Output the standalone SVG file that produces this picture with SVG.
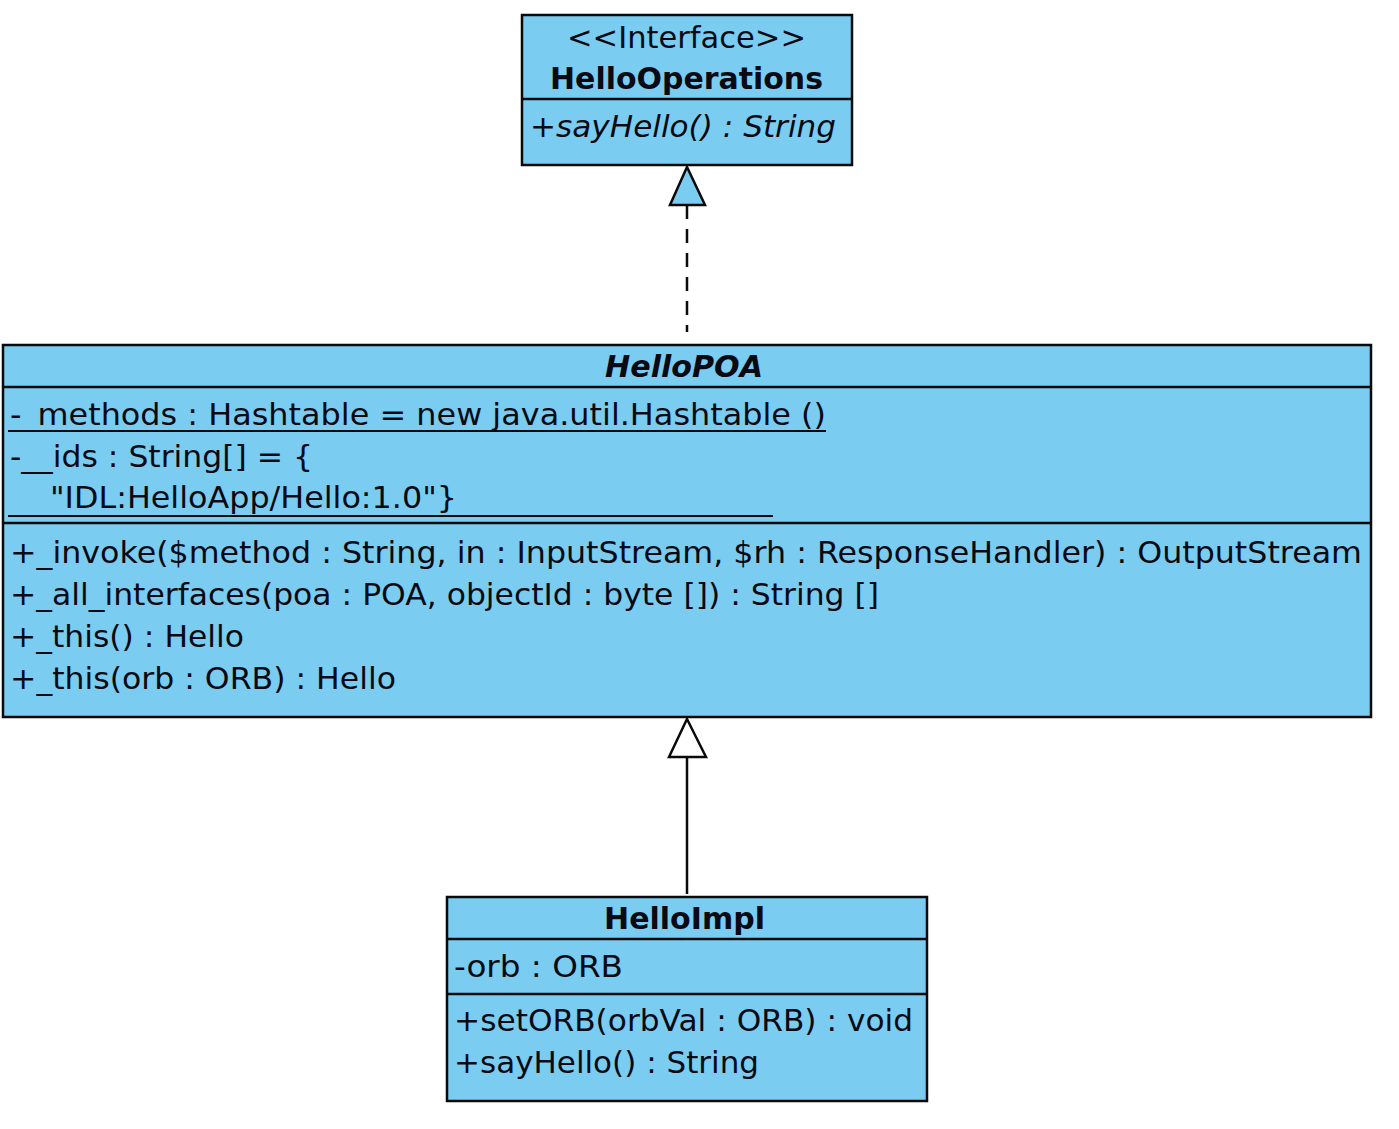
<svg xmlns="http://www.w3.org/2000/svg" width="1399" height="1129" viewBox="0 0 1399 1129">
<style>
.box{fill:#7acdf1;stroke:#0a0a0a;stroke-width:2.5}
.div{stroke:#0a0a0a;stroke-width:2.5}
text{font-family:"DejaVu Sans","Liberation Sans",sans-serif;font-size:30px;fill:#0a0a14}
.c{text-anchor:middle}
.b{font-weight:bold}
.i{font-style:italic}
.u{stroke:#0a0a0a;stroke-width:2}
.edge{stroke:#0a0a0a;stroke-width:2.5;fill:none}
</style>
<rect width="1399" height="1129" fill="#ffffff"/>
<g id="HelloOperations">
<rect class="box" x="522" y="15" width="330" height="150"/>
<line class="div" x1="522" y1="99" x2="852" y2="99"/>
<text x="567" y="48" textLength="239" lengthAdjust="spacingAndGlyphs">&lt;&lt;Interface&gt;&gt;</text>
<text class="b" x="550" y="89" textLength="273" lengthAdjust="spacingAndGlyphs">HelloOperations</text>
<text class="i" x="530" y="137" textLength="306" lengthAdjust="spacingAndGlyphs">+sayHello() : String</text>
</g>
<g id="HelloPOA">
<rect class="box" x="3" y="345" width="1368" height="372"/>
<line class="div" x1="3" y1="387" x2="1371" y2="387"/>
<line class="div" x1="3" y1="523" x2="1371" y2="523"/>
<text class="b i" x="605" y="377" textLength="158" lengthAdjust="spacingAndGlyphs">HelloPOA</text>
<text x="10" y="425" textLength="816" lengthAdjust="spacingAndGlyphs">-_methods : Hashtable = new java.util.Hashtable ()</text>
<line class="u" x1="8" y1="431" x2="826" y2="431"/>
<text x="10" y="467" textLength="303" lengthAdjust="spacingAndGlyphs">-__ids : String[] = {</text>
<text x="50" y="508" textLength="407" lengthAdjust="spacingAndGlyphs">"IDL:HelloApp/Hello:1.0"}</text>
<line class="u" x1="8" y1="516" x2="773" y2="516"/>
<text x="10" y="563" textLength="1352" lengthAdjust="spacingAndGlyphs">+_invoke($method : String, in : InputStream, $rh : ResponseHandler) : OutputStream</text>
<text x="10" y="605" textLength="869" lengthAdjust="spacingAndGlyphs">+_all_interfaces(poa : POA, objectId : byte []) : String []</text>
<text x="10" y="647" textLength="234" lengthAdjust="spacingAndGlyphs">+_this() : Hello</text>
<text x="10" y="689" textLength="386" lengthAdjust="spacingAndGlyphs">+_this(orb : ORB) : Hello</text>
</g>
<g id="HelloImpl">
<rect class="box" x="447" y="897" width="480" height="204"/>
<line class="div" x1="447" y1="939" x2="927" y2="939"/>
<line class="div" x1="447" y1="994" x2="927" y2="994"/>
<text class="b" x="604" y="929" textLength="161" lengthAdjust="spacingAndGlyphs">HelloImpl</text>
<text x="454" y="977" textLength="169" lengthAdjust="spacingAndGlyphs">-orb : ORB</text>
<text x="454" y="1031" textLength="459" lengthAdjust="spacingAndGlyphs">+setORB(orbVal : ORB) : void</text>
<text x="454" y="1073" textLength="305" lengthAdjust="spacingAndGlyphs">+sayHello() : String</text>
</g>
<g id="connectors">
<line class="edge" x1="687" y1="205" x2="687" y2="332" stroke-dasharray="14,10"/>
<polygon points="687,167 670,205 705,205" fill="#7acdf1" stroke="#0a0a0a" stroke-width="2.5"/>
<line class="edge" x1="687" y1="757" x2="687" y2="894"/>
<polygon points="687,719 669,757 706,757" fill="#ffffff" stroke="#0a0a0a" stroke-width="2.5"/>
</g>
</svg>
